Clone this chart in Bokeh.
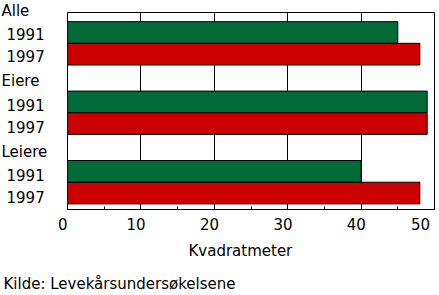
from bokeh.plotting import figure
from bokeh.models import Range1d, FixedTicker, Title, ColumnDataSource
from bokeh.layouts import row, column
from bokeh.core.properties import value
from bokeh.embed import file_html
from bokeh.resources import INLINE

# ---- data ----
groups = ["Alle", "Eiere", "Leiere"]
years = ["1991", "1997"]
v1991 = [45, 49, 40]
v1997 = [48, 49, 48]
x_ticks = [0, 10, 20, 30, 40, 50]
x_tick_labels = ["0", "10", "20", "30", "40", "50"]
x_minor = [5, 15, 25, 35, 45]
x_label = "Kvadratmeter"
source_note = "Kilde: Levekårsundersøkelsene"

colors = {"1991": "#006a38", "1997": "#cc0000"}
FONT = "DejaVu Sans"
FS = "15px"
NB = "\u00a0"

# ---- layout (vertical units = pixels of frame, top=0) ----
top_pad = 9.3
pitch = 70.5
bar_h = 22.0
top_border = 12
frame_h = 200
chart_h = 262
lab_w = 57


def no_align(fig):
    if "frame_align" in fig.properties():
        fig.frame_align = False
    return fig


def plain(fig):
    fig.xgrid.visible = False
    fig.ygrid.visible = False
    fig.outline_line_color = None
    fig.background_fill_color = "white"
    fig.border_fill_color = "white"
    fig.min_border = 0
    return no_align(fig)


# ---- main chart ----
p = figure(width=439 - lab_w, height=chart_h, output_backend="svg", toolbar_location=None,
           x_range=Range1d(0, 50), y_range=Range1d(frame_h, 0),
           y_axis_location=None, min_border_left=67 - lab_w, min_border_right=5,
           min_border_top=top_border, min_border_bottom=chart_h - top_border - frame_h)
no_align(p)
p.background_fill_color = "white"
p.border_fill_color = "white"
p.outline_line_color = "black"
p.outline_line_width = 1
p.ygrid.visible = False
p.xgrid.grid_line_color = "black"
p.xgrid.grid_line_width = 1
p.xgrid.grid_line_alpha = 1.0

for k, (yr, vals) in enumerate(zip(years, [v1991, v1997])):
    ys = [top_pad + g * pitch + k * bar_h + bar_h / 2 for g in range(len(groups))]
    src = ColumnDataSource(dict(y=ys, right=vals))
    p.hbar(y="y", right="right", left=0, height=bar_h, source=src,
           fill_color=colors[yr], line_color="black", line_width=1)

ax = p.xaxis[0]
ax.ticker = FixedTicker(ticks=x_ticks, minor_ticks=x_minor)
ax.major_label_overrides = {t: lab + NB + NB for t, lab in zip(x_ticks, x_tick_labels)}
ax.major_tick_out = 0
ax.major_tick_in = 0
ax.minor_tick_in = 3
ax.minor_tick_out = 0
ax.minor_tick_line_color = "black"
ax.axis_line_color = "black"
ax.major_label_standoff = 6
ax.major_label_text_font = FONT
ax.major_label_text_font_size = FS
ax.major_label_text_color = "black"

t1 = Title(text=x_label, align="left", offset=121, text_font=FONT,
           text_font_size=FS, text_font_style="normal", text_color="black", standoff=6)
p.add_layout(t1, "below")

# ---- category labels (left panel, same vertical scale as chart) ----
lab = plain(figure(width=lab_w, height=chart_h, output_backend="svg", toolbar_location=None,
                   x_range=Range1d(0, lab_w), y_range=Range1d(chart_h - top_border, -top_border),
                   x_axis_location=None, y_axis_location=None))
gx, gy, gt = [], [], []
for g, name in enumerate(groups):
    gx.append(1)
    gy.append(top_pad + g * pitch - 11.3)
    gt.append(name)
    for k, yr in enumerate(years):
        gx.append(6)
        gy.append(top_pad + g * pitch + k * bar_h + bar_h / 2 + 1.5)
        gt.append(yr)
lab.text(x="x", y="y", text="t", source=ColumnDataSource(dict(x=gx, y=gy, t=gt)),
         text_font=value(FONT), text_font_size=value(FS), text_baseline="middle",
         text_align="left", text_color="black")

# ---- source note ----
note_h = 295 - chart_h
src_fig = plain(figure(width=439, height=note_h, output_backend="svg", toolbar_location=None,
                       x_range=Range1d(0, 439), y_range=Range1d(note_h, 0),
                       x_axis_location=None, y_axis_location=None))
src_fig.text(x=[3], y=[283 - chart_h], text=[source_note], text_font=value(FONT),
             text_font_size=value(FS), text_baseline="middle", text_align="left",
             text_color="black")

layout = column(row(lab, p, spacing=0), src_fig, spacing=0)
open("out.html", "w").write(file_html(layout, INLINE))
